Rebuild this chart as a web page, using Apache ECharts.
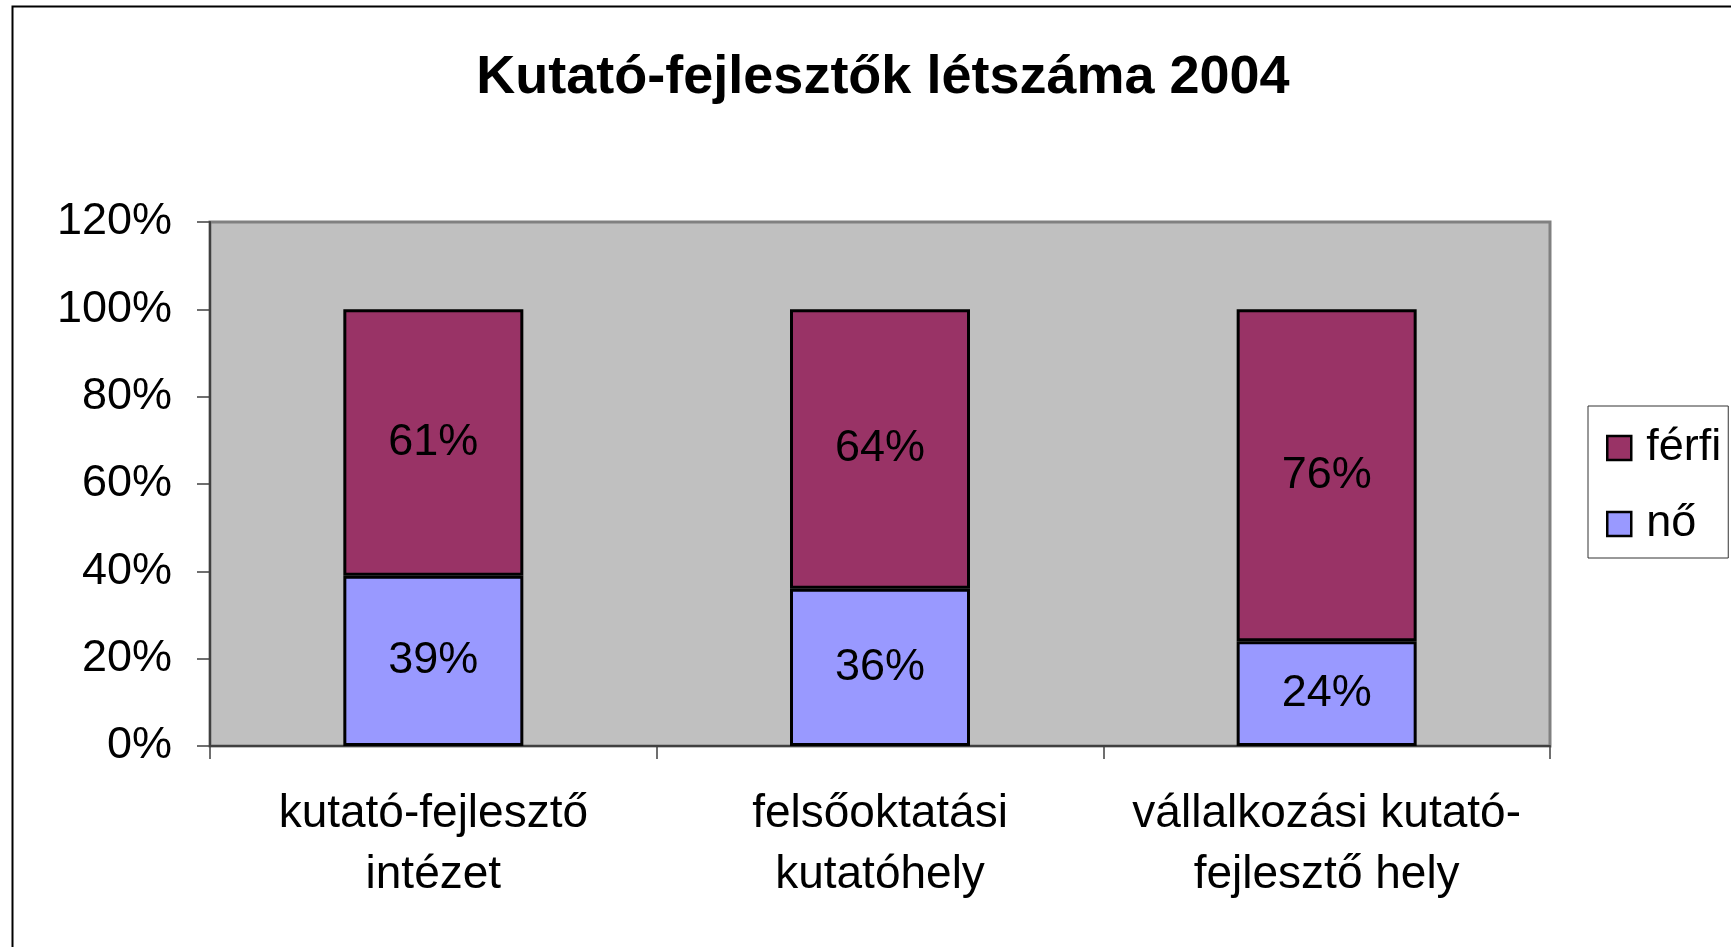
<!DOCTYPE html>
<html>
<head>
<meta charset="utf-8">
<script src="https://cdn.jsdelivr.net/npm/echarts@6/dist/echarts.min.js"></script>
<style>
html,body{margin:0;padding:0;background:#fff;}
#chart{width:1731px;height:947px;}
</style>
</head>
<body>
<div id="chart"></div>
<script>
const categories = ['kutató-fejlesztő\nintézet', 'felsőoktatási\nkutatóhely', 'vállalkozási kutató-\nfejlesztő hely'];
const noValues = [39, 36, 24];
const ferfiValues = [61, 64, 76];
const yTicks = { min: 0, max: 120, interval: 20 };

const FONT = "'Liberation Sans', Arial, Helvetica, sans-serif";
const chart = echarts.init(document.getElementById('chart'));
chart.setOption({
  animation: false,
  backgroundColor: '#ffffff',
  title: {
    text: 'Kutató-fejlesztők létszáma 2004',
    left: 878,
    textAlign: 'center',
    top: 46,
    textStyle: { fontFamily: FONT, fontSize: 54, fontWeight: 'bold', color: '#000' }
  },
  graphic: [{
    type: 'rect',
    shape: { x: 12.5, y: 6.5, width: 1760, height: 980 },
    style: { fill: 'none', stroke: '#000', lineWidth: 2 },
    silent: true
  }],
  legend: {
    orient: 'vertical',
    left: 1588,
    top: 406,
    data: ['férfi', 'nő'],
    backgroundColor: '#fff',
    borderColor: '#333',
    borderWidth: 1,
    borderRadius: 0,
    padding: [19, 7, 11, 18],
    itemWidth: 24,
    itemHeight: 24,
    itemGap: 30,
    icon: 'rect',
    itemStyle: { borderColor: '#000', borderWidth: 2.5 },
    textStyle: { fontFamily: FONT, fontSize: 45, color: '#000', lineHeight: 46, padding: [0, 0, 0, 10] }
  },
  grid: {
    left: 210, right: 181, top: 222, bottom: 201,
    show: true,
    backgroundColor: '#C0C0C0',
    borderColor: '#808080',
    borderWidth: 3
  },
  xAxis: {
    type: 'category',
    data: categories,
    axisLine: { show: true, lineStyle: { color: '#404040', width: 2 } },
    axisTick: { show: true, length: 13, lineStyle: { color: '#404040', width: 1.5 } },
    axisLabel: { fontFamily: FONT, fontSize: 46, color: '#000', lineHeight: 61, margin: 38, interval: 0 }
  },
  yAxis: {
    type: 'value',
    min: yTicks.min,
    max: yTicks.max,
    interval: yTicks.interval,
    splitLine: { show: false },
    axisLine: { show: true, lineStyle: { color: '#404040', width: 2 } },
    axisTick: { show: true, length: 13, lineStyle: { color: '#404040', width: 1.5 } },
    axisLabel: { fontFamily: FONT, fontSize: 45, color: '#000', margin: 38, formatter: '{value}%' }
  },
  series: [
    {
      name: 'nő',
      type: 'bar',
      stack: 'total',
      data: noValues,
      barWidth: 180,
      itemStyle: { color: '#9999FF', borderColor: '#000', borderWidth: 3 },
      label: { show: true, position: 'inside', formatter: '{c}%', fontFamily: FONT, fontSize: 45, color: '#000' }
    },
    {
      name: 'férfi',
      type: 'bar',
      stack: 'total',
      data: ferfiValues,
      barWidth: 180,
      itemStyle: { color: '#993366', borderColor: '#000', borderWidth: 3 },
      label: { show: true, position: 'inside', formatter: '{c}%', fontFamily: FONT, fontSize: 45, color: '#000' }
    }
  ]
});
</script>
</body>
</html>
